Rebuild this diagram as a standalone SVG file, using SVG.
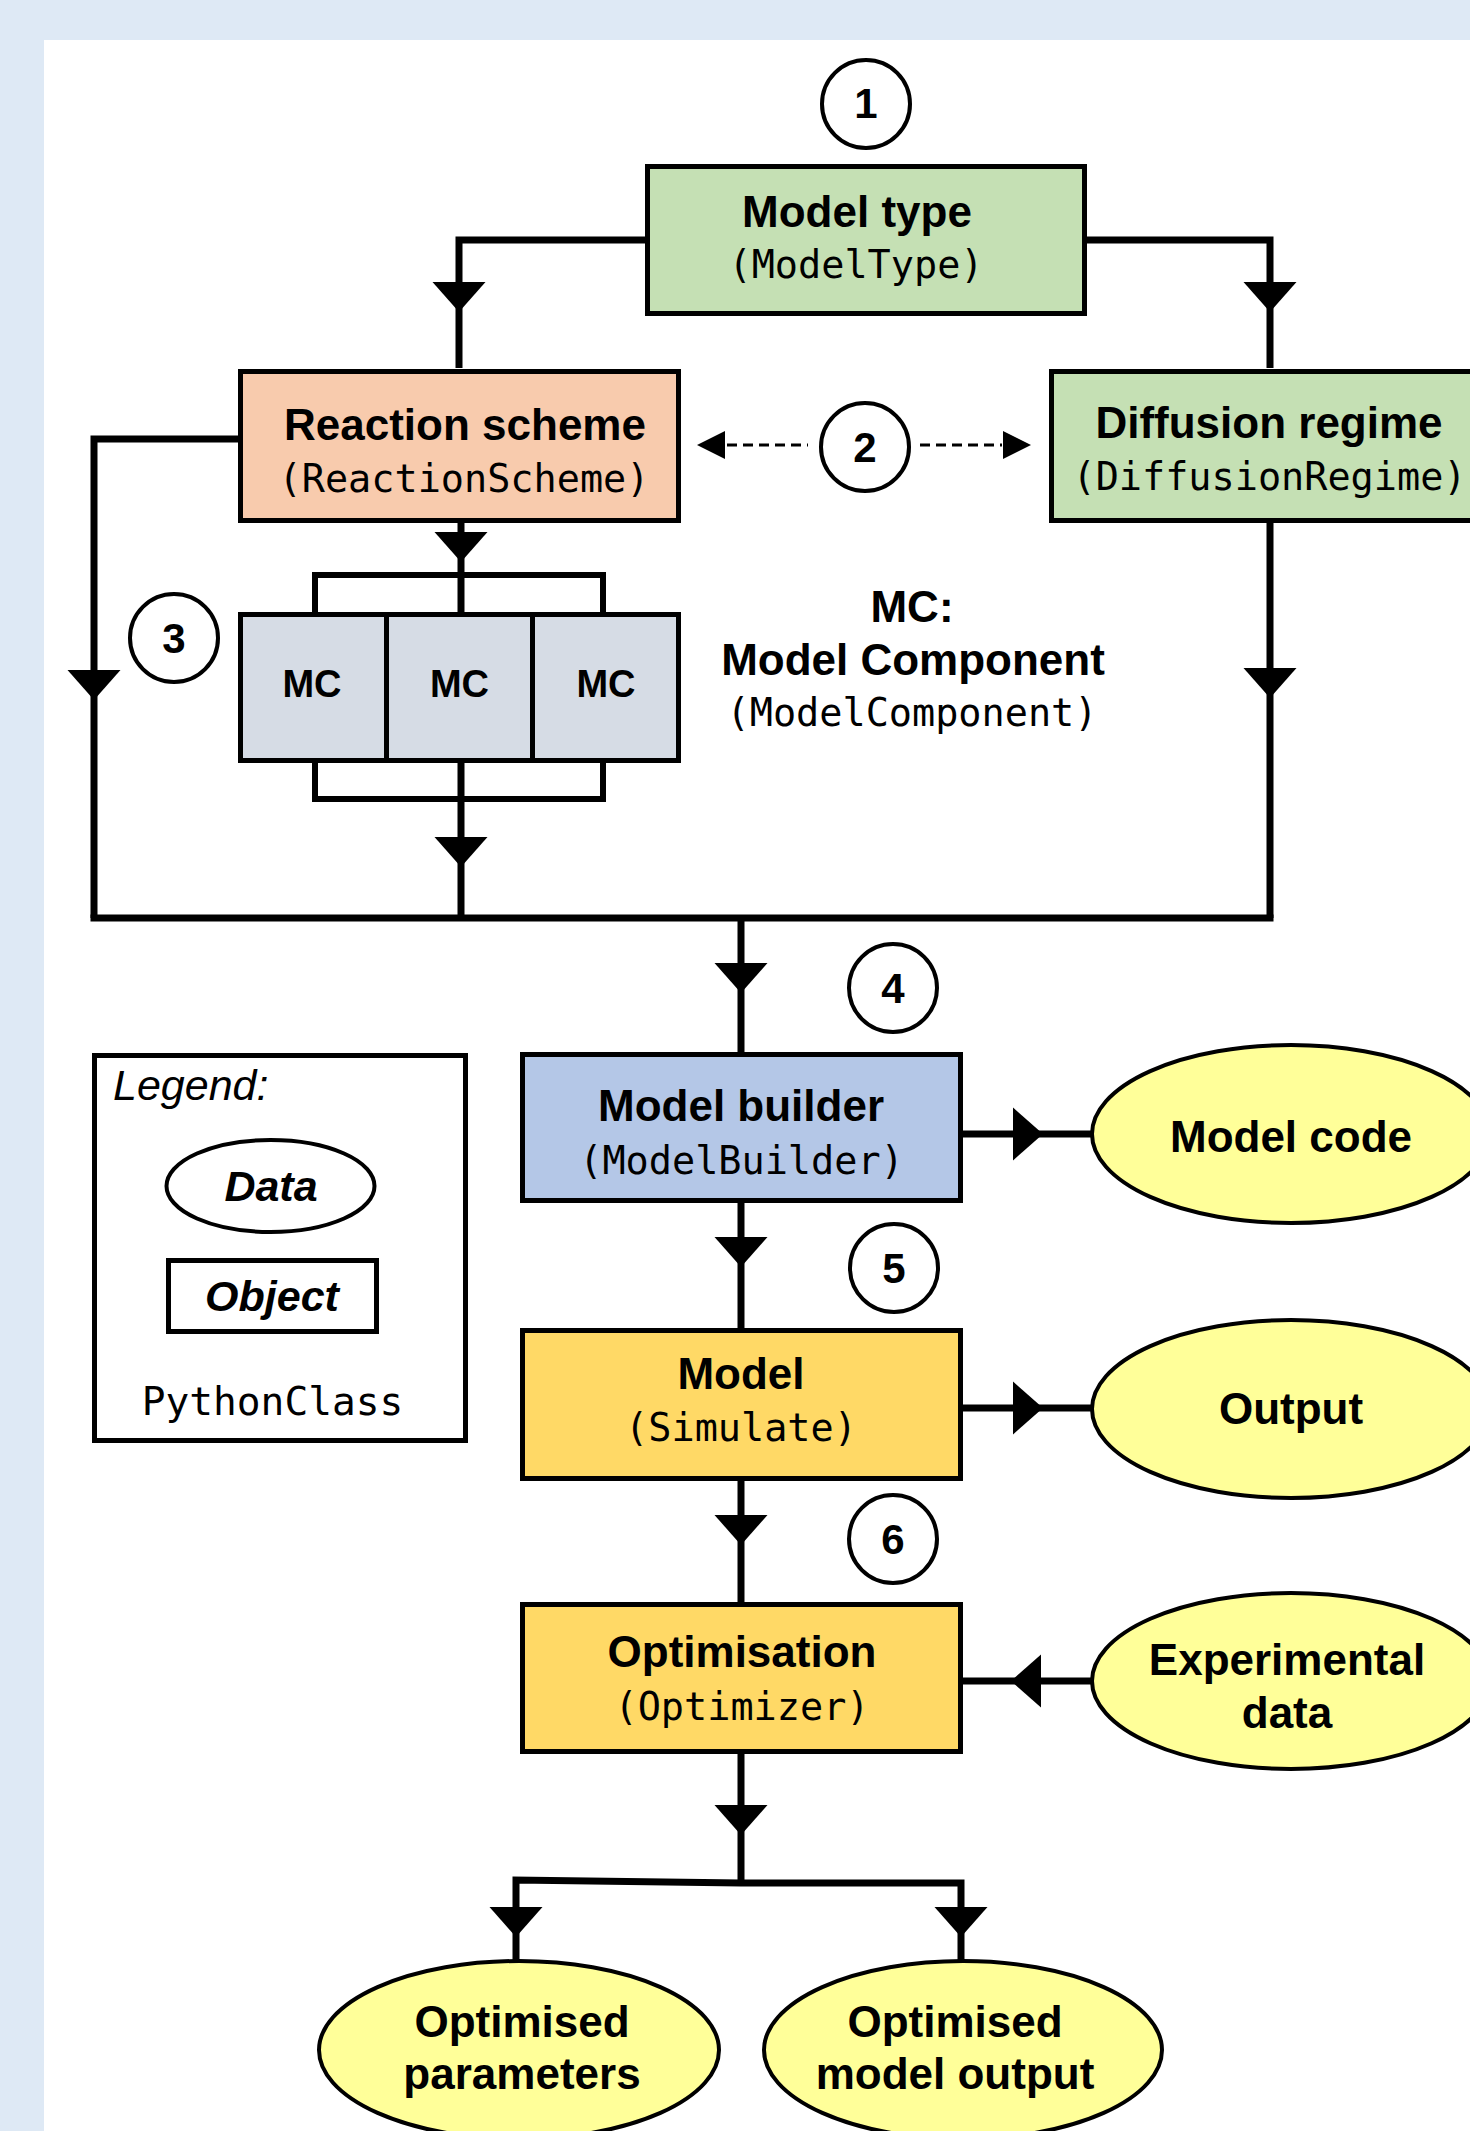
<svg xmlns="http://www.w3.org/2000/svg" xmlns:xlink="http://www.w3.org/1999/xlink" width="1470" height="2131" viewBox="0 0 1470 2131">
<style>
.box{stroke:#000;stroke-width:5}
.ell{stroke:#000;stroke-width:4;fill:#ffff99}
.num{fill:#fff;stroke:#000;stroke-width:4}
.t{font-family:"Liberation Sans",Arial,sans-serif;font-weight:bold;font-size:44px;text-anchor:middle;fill:#000}
.n{font-family:"Liberation Sans",Arial,sans-serif;font-weight:bold;font-size:42px;text-anchor:middle;fill:#000}
.m{font-family:"DejaVu Sans Mono",monospace;font-size:38.5px;text-anchor:middle;fill:#000}
.c{fill:none;stroke:#000;stroke-width:7}
.thin{fill:none;stroke:#000;stroke-width:6}
.dash{fill:none;stroke:#000;stroke-width:3;stroke-dasharray:10 6}
</style>
<defs>
<polygon id="ah" points="-26.5,-30 26.5,-30 0,0" fill="#000"/>
<polygon id="ahs" points="-28,-14 -28,14 0,0" fill="#000"/>
</defs>
<rect x="0" y="0" width="1470" height="2131" fill="#dee9f5"/>
<rect x="44" y="40" width="1426" height="2091" fill="#fff"/>

<g id="connectors">
<path class="c" d="M645,240 H459 V368"/>
<use xlink:href="#ah" x="459" y="312"/>
<path class="c" d="M1087,240 H1270 V368"/>
<use xlink:href="#ah" x="1270" y="312"/>
<path class="c" d="M461,523 V612"/>
<use xlink:href="#ah" x="461" y="562"/>
<path class="thin" d="M315,613 V575 H603 V613"/>
<path class="thin" d="M315,763 V799 H603 V763"/>
<path class="c" d="M461,763 V918"/>
<use xlink:href="#ah" x="461" y="867"/>
<path class="c" d="M238,439 H94 V918"/>
<use xlink:href="#ah" x="94" y="700"/>
<path class="c" d="M1270,523 V918"/>
<use xlink:href="#ah" x="1270" y="698"/>
<path class="c" d="M90.5,918 H1273.5"/>
<path class="c" d="M741,918 V1052"/>
<use xlink:href="#ah" x="741" y="993"/>
<path class="c" d="M741,1203 V1328"/>
<use xlink:href="#ah" x="741" y="1267"/>
<path class="c" d="M741,1481 V1602"/>
<use xlink:href="#ah" x="741" y="1545"/>
<path class="c" d="M741,1754 V1883"/>
<use xlink:href="#ah" x="741" y="1835"/>
<path class="c" d="M516,1960 V1880 L741,1883 H961 V1960"/>
<use xlink:href="#ah" x="516" y="1937"/>
<use xlink:href="#ah" x="961" y="1937"/>
<path class="c" d="M963,1134 H1092"/>
<use xlink:href="#ah" transform="translate(1043,1134) rotate(-90)"/>
<path class="c" d="M963,1408 H1092"/>
<use xlink:href="#ah" transform="translate(1043,1408) rotate(-90)"/>
<path class="c" d="M1092,1681 H962"/>
<use xlink:href="#ah" transform="translate(1011,1681) rotate(90)"/>
<path class="dash" d="M727,445 H808"/>
<use xlink:href="#ahs" transform="translate(697,445) rotate(180)"/>
<path class="dash" d="M920,445 H1002"/>
<use xlink:href="#ahs" x="1031" y="445"/>
</g>

<g id="step1"><circle class="num" cx="866" cy="104" r="44"/><text class="n" x="866" y="118">1</text></g>
<g id="step2"><circle class="num" cx="865" cy="447" r="44"/><text class="n" x="865" y="462">2</text></g>
<g id="step3"><circle class="num" cx="174" cy="638" r="44"/><text class="n" x="174" y="653">3</text></g>
<g id="step4"><circle class="num" cx="893" cy="988" r="44"/><text class="n" x="893" y="1003">4</text></g>
<g id="step5"><circle class="num" cx="894" cy="1268" r="44"/><text class="n" x="894" y="1283">5</text></g>
<g id="step6"><circle class="num" cx="893" cy="1539" r="44"/><text class="n" x="893" y="1554">6</text></g>

<g id="model-type">
<rect class="box" x="647.5" y="166.5" width="437" height="147" fill="#c5e0b4"/>
<text class="t" x="857" y="227">Model type</text>
<text class="m" x="856" y="278">(ModelType)</text>
</g>
<g id="reaction-scheme">
<rect class="box" x="240.5" y="371.5" width="438" height="149" fill="#f8cbad"/>
<text class="t" x="465" y="440">Reaction scheme</text>
<text class="m" x="464" y="492">(ReactionScheme)</text>
</g>
<g id="diffusion-regime">
<rect class="box" x="1051.5" y="371.5" width="440" height="149" fill="#c5e0b4"/>
<text class="t" x="1269" y="438">Diffusion regime</text>
<text class="m" x="1269.5" y="490">(DiffusionRegime)</text>
</g>
<g id="mc1">
<rect class="box" x="240.5" y="614.5" width="146" height="146" fill="#d6dce5"/>
<text class="t" x="312" y="697" style="font-size:38px">MC</text>
</g>
<g id="mc2">
<rect class="box" x="386.5" y="614.5" width="146" height="146" fill="#d6dce5"/>
<text class="t" x="459.5" y="697" style="font-size:38px">MC</text>
</g>
<g id="mc3">
<rect class="box" x="532.5" y="614.5" width="146" height="146" fill="#d6dce5"/>
<text class="t" x="606" y="697" style="font-size:38px">MC</text>
</g>
<g id="mc-label">
<text class="t" x="912" y="622">MC:</text>
<text class="t" x="913" y="675">Model Component</text>
<text class="m" x="912" y="726">(ModelComponent)</text>
</g>

<g id="legend">
<rect class="box" x="94.5" y="1055.5" width="371" height="385" fill="#fff"/>
<text x="113" y="1100" style="font-family:'Liberation Sans',Arial,sans-serif;font-style:italic;font-size:43px">Legend:</text>
<ellipse cx="270.5" cy="1186" rx="104" ry="46" fill="#fff" stroke="#000" stroke-width="4"/>
<text class="t" x="271" y="1201" style="font-style:italic;font-size:43px">Data</text>
<rect class="box" x="168.5" y="1260.5" width="208" height="71" fill="#fff"/>
<text class="t" x="272" y="1311" style="font-style:italic;font-size:43px">Object</text>
<text class="m" x="272.5" y="1415" style="font-size:39.5px">PythonClass</text>
</g>

<g id="model-builder">
<rect class="box" x="522.5" y="1054.5" width="438" height="146" fill="#b4c7e7"/>
<text class="t" x="741" y="1121">Model builder</text>
<text class="m" x="741.5" y="1174">(ModelBuilder)</text>
</g>
<g id="model">
<rect class="box" x="522.5" y="1330.5" width="438" height="148" fill="#ffd966"/>
<text class="t" x="741" y="1389">Model</text>
<text class="m" x="741" y="1441">(Simulate)</text>
</g>
<g id="optimisation">
<rect class="box" x="522.5" y="1604.5" width="438" height="147" fill="#ffd966"/>
<text class="t" x="742" y="1667">Optimisation</text>
<text class="m" x="742" y="1720">(Optimizer)</text>
</g>

<g id="model-code">
<ellipse class="ell" cx="1291" cy="1134" rx="199" ry="89"/>
<text class="t" x="1291" y="1152">Model code</text>
</g>
<g id="output">
<ellipse class="ell" cx="1291" cy="1409" rx="199" ry="89"/>
<text class="t" x="1291" y="1424">Output</text>
</g>
<g id="experimental-data">
<ellipse class="ell" cx="1291" cy="1681" rx="199" ry="88"/>
<text class="t" x="1287" y="1675">Experimental</text>
<text class="t" x="1287" y="1728">data</text>
</g>
<g id="optimised-parameters">
<ellipse class="ell" cx="519" cy="2050" rx="200" ry="89"/>
<text class="t" x="522" y="2037">Optimised</text>
<text class="t" x="522" y="2089">parameters</text>
</g>
<g id="optimised-model-output">
<ellipse class="ell" cx="963" cy="2050" rx="199" ry="89"/>
<text class="t" x="955" y="2037">Optimised</text>
<text class="t" x="955" y="2089">model output</text>
</g>
</svg>
